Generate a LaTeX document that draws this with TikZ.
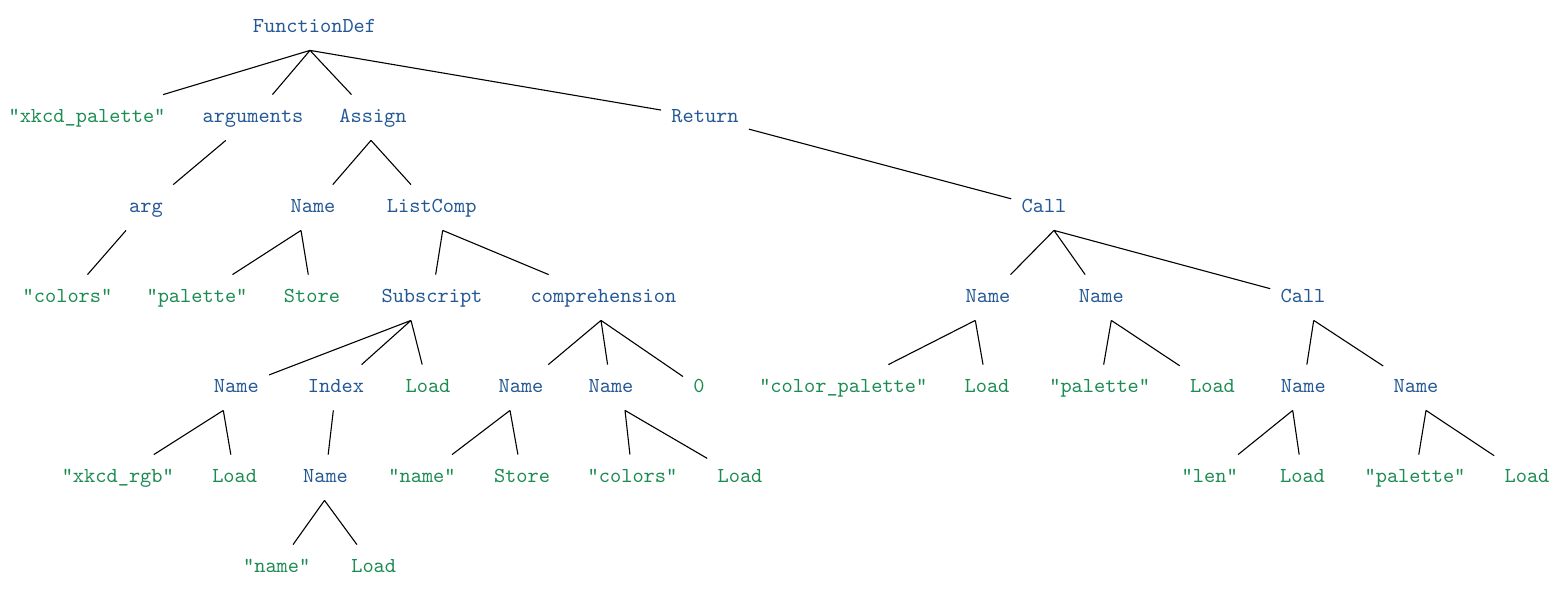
\documentclass[tikz,border=0pt]{standalone}
\usetikzlibrary{calc}
\definecolor{astblue}{RGB}{36,88,148}
\definecolor{astgreen}{RGB}{28,140,82}

\begin{document}
\begin{tikzpicture} [x=0.5pt, y=-0.5pt]
\tikzstyle{every node}=[font=\ttfamily\fontsize{10.67}{12}\selectfont, anchor=base, inner xsep=5pt, inner ysep=0pt, text height=13.5pt, text depth=9pt];
\tikzstyle{ast}=[text=astblue];
\tikzstyle{lit}=[text=astgreen];
\useasboundingbox (0,0) rectangle (1566,595);
% level 0
\node[ast] (fdef) at (314.5, 32) {FunctionDef};
% level 1
\node[lit] (fname) at (87, 122) {"xkcd\_palette"};
\node[ast] (args) at (253, 122) {arguments};
\node[ast] (asgn) at (373, 122) {Assign};
\node[ast] (ret) at (705, 122) {Return};
% level 2
\node[ast] (arg) at (146, 212) {arg};
\node[ast] (nm1) at (313, 212) {Name};
\node[ast] (lc) at (431.7, 212) {ListComp};
\node[ast] (call1) at (1044, 212) {Call};
% level 3
\node[lit] (cols1) at (67.5, 302) {"colors"};
\node[lit] (pal1) at (197, 302) {"palette"};
\node[lit] (st1) at (312, 302) {Store};
\node[ast] (sub) at (432, 302) {Subscript};
\node[ast] (comp) at (603.5, 302) {comprehension};
\node[ast] (nm2) at (988, 302) {Name};
\node[ast] (nm3) at (1101.3, 302) {Name};
\node[ast] (call2) at (1303, 302) {Call};
% level 4
\node[ast] (nm4) at (236.3, 392) {Name};
\node[ast] (idx) at (336, 392) {Index};
\node[lit] (ld1) at (428, 392) {Load};
\node[ast] (nm5) at (521, 392) {Name};
\node[ast] (nm6) at (611, 392) {Name};
\node[lit] (zero) at (699, 392) {0};
\node[lit] (cpal) at (843.3, 392) {"color\_palette"};
\node[lit] (ld2) at (987, 392) {Load};
\node[lit] (pal2) at (1099.7, 392) {"palette"};
\node[lit] (ld3) at (1212.5, 392) {Load};
\node[ast] (nm7) at (1303.3, 392) {Name};
\node[ast] (nm8) at (1416, 392) {Name};
% level 5
\node[lit] (rgb) at (117.8, 482) {"xkcd\_rgb"};
\node[lit] (ld4) at (234.7, 482) {Load};
\node[ast] (nm9) at (325.5, 482) {Name};
\node[lit] (str1) at (422, 482) {"name"};
\node[lit] (st2) at (522, 482) {Store};
\node[lit] (cols2) at (632.5, 482) {"colors"};
\node[lit] (ld5) at (740, 482) {Load};
\node[lit] (len) at (1209.7, 482) {"len"};
\node[lit] (ld6) at (1302.5, 482) {Load};
\node[lit] (pal3) at (1415, 482) {"palette"};
\node[lit] (ld7) at (1527, 482) {Load};
% level 6
\node[lit] (str2) at (276.7, 572) {"name"};
\node[lit] (ld8) at (373.7, 572) {Load};
% fork points
\coordinate (f0) at ($(fdef.south)+(-4.5,0)$);
\coordinate (f1) at ($(asgn.south)+(-2,0)$);
\coordinate (f2) at ($(nm1.south)+(-12,0)$);
\coordinate (f3) at ($(lc.south)+(11,0)$);
\coordinate (f4) at ($(call1.south)+(10,0)$);
\coordinate (f5) at ($(sub.south)+(-21,0)$);
\coordinate (f6) at ($(comp.south)+(-2.5,0)$);
\coordinate (f7) at ($(nm2.south)+(-12.7,0)$);
\coordinate (f8) at ($(nm3.south)+(10,0)$);
\coordinate (f9) at ($(call2.south)+(10.7,0)$);
\coordinate (f10) at ($(nm4.south)+(-13,0)$);
\coordinate (f11) at ($(nm5.south)+(-11,0)$);
\coordinate (f12) at ($(nm6.south)+(14,0)$);
\coordinate (f13) at ($(nm7.south)+(-10.6,0)$);
\coordinate (f14) at ($(nm8.south)+(10,0)$);
\coordinate (f15) at ($(nm9.south)+(-1,0)$);
\draw[line width=0.55pt] (f0) -- (fname)
(f0) -- (args)
(f0) -- (asgn)
(f0) -- (ret)
(args) -- (arg)
(f1) -- (nm1)
(f1) -- (lc)
(ret) -- (call1)
(arg) -- (cols1)
(f2) -- (pal1)
(f2) -- (st1)
(f3) -- (sub)
(f3) -- (comp)
(f4) -- (nm2)
(f4) -- (nm3)
(f4) -- (call2)
(f5) -- (nm4)
(f5) -- (idx)
(f5) -- (ld1)
(f6) -- (nm5)
(f6) -- (nm6)
(f6) -- (zero)
(f7) -- (cpal)
(f7) -- (ld2)
(f8) -- (pal2)
(f8) -- (ld3)
(f9) -- (nm7)
(f9) -- (nm8)
(f10) -- (rgb)
(f10) -- (ld4)
(idx) -- (nm9)
(f11) -- (str1)
(f11) -- (st2)
(f12) -- (cols2)
(f12) -- (ld5)
(f13) -- (len)
(f13) -- (ld6)
(f14) -- (pal3)
(f14) -- (ld7)
(f15) -- (str2)
(f15) -- (ld8);
\end{tikzpicture}
\end{document}
